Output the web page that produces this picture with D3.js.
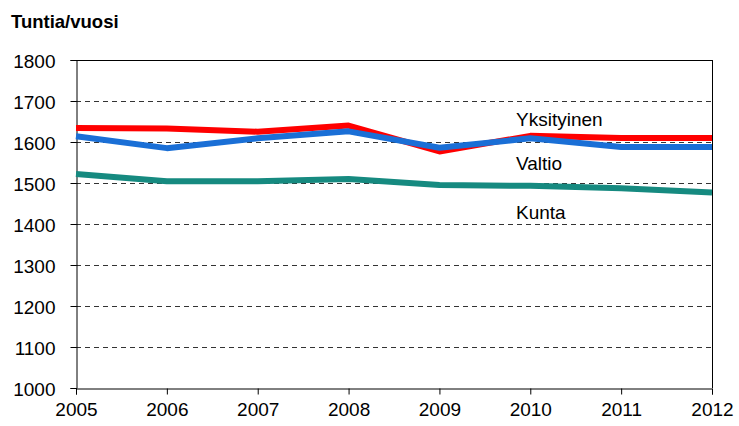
<!DOCTYPE html>
<html>
<head>
<meta charset="utf-8">
<script src="https://cdn.jsdelivr.net/npm/d3@7"></script>
<style>
	body { margin: 0; background: #fff; }
	svg text { font-family: "Liberation Sans", Arial, sans-serif; fill: #000; }
</style>
</head>
<body>
<svg id="chart" width="739" height="426"></svg>
<script>
'use strict';

var years = [2005, 2006, 2007, 2008, 2009, 2010, 2011, 2012];
var yksityinen = [1634, 1633, 1625, 1640, 1577, 1615, 1610, 1610];
var valtio = [1614, 1585, 1609, 1626, 1586, 1609, 1588, 1588];
var kunta = [1522, 1504, 1504, 1510, 1495, 1493, 1487, 1477];
var yTicks = [1000, 1100, 1200, 1300, 1400, 1500, 1600, 1700, 1800];

var series = [
	{ name: 'Yksityinen', values: yksityinen, color: '#ff0000', labelX: 516, labelY: 126 },
	{ name: 'Valtio', values: valtio, color: '#1a6fd6', labelX: 516, labelY: 170 },
	{ name: 'Kunta', values: kunta, color: '#168a80', labelX: 516, labelY: 219 }
];

var plot = { left: 76, right: 712, top: 60, bottom: 388 };

var svg = d3.select('#chart');

var x = d3.scaleLinear().domain([2005, 2012]).range([plot.left, plot.right]);
var y = d3.scaleLinear().domain([1000, 1800]).range([plot.bottom, plot.top]);

// title
svg.append('text')
		.attr('x', 11)
		.attr('y', 28)
		.style('font-weight', 'bold')
		.style('font-size', '18.5px')
		.text('Tuntia/vuosi');

// dashed grid
svg.append('g')
		.selectAll('line')
		.data(yTicks.filter(function(d) { return d > 1000 && d < 1800; }))
		.enter()
		.append('line')
		.attr('x1', plot.left)
		.attr('x2', plot.right)
		.attr('y1', function(d) { return y(d) + 0.5; })
		.attr('y2', function(d) { return y(d) + 0.5; })
		.attr('stroke', '#333')
		.attr('stroke-width', 1)
		.attr('stroke-dasharray', '5,4');

// frame top / right
svg.append('line')
		.attr('x1', plot.left).attr('x2', plot.right + 0.5)
		.attr('y1', plot.top + 0.5).attr('y2', plot.top + 0.5)
		.attr('stroke', '#000');
svg.append('line')
		.attr('x1', plot.right + 0.5).attr('x2', plot.right + 0.5)
		.attr('y1', plot.top).attr('y2', plot.bottom)
		.attr('stroke', '#000');

// axes
var yAxis = d3.axisLeft(y)
		.tickValues(yTicks)
		.tickFormat(d3.format('d'))
		.tickSize(6)
		.tickPadding(15);
var xAxis = d3.axisBottom(x)
		.tickValues(years)
		.tickFormat(d3.format('d'))
		.tickSize(6)
		.tickPadding(8);

var gy = svg.append('g')
		.attr('transform', 'translate(' + (plot.left + 0.5) + ',0)')
		.call(yAxis);
var gx = svg.append('g')
		.attr('transform', 'translate(0,' + (plot.bottom + 0.5) + ')')
		.call(xAxis);

[gx, gy].forEach(function(g) {
	g.select('.domain').attr('stroke', '#000');
	g.selectAll('.tick line').attr('stroke', '#000');
	g.selectAll('text')
			.style('font-size', '19px')
			.style('font-family', '"Liberation Sans", Arial, sans-serif')
			.attr('fill', '#000');
});
gy.selectAll('text').attr('dy', '0.38em');

// lines
var line = d3.line()
		.x(function(d, i) { return x(years[i]); })
		.y(function(d) { return y(d); });

svg.append('g')
		.selectAll('path')
		.data(series)
		.enter()
		.append('path')
		.attr('d', function(s) { return line(s.values); })
		.attr('fill', 'none')
		.attr('stroke', function(s) { return s.color; })
		.attr('stroke-width', 6)
		.attr('stroke-linejoin', 'round');

// series labels
svg.append('g')
		.selectAll('text')
		.data(series)
		.enter()
		.append('text')
		.attr('x', function(s) { return s.labelX; })
		.attr('y', function(s) { return s.labelY; })
		.style('font-size', '19px')
		.text(function(s) { return s.name; });
</script>
</body>
</html>
